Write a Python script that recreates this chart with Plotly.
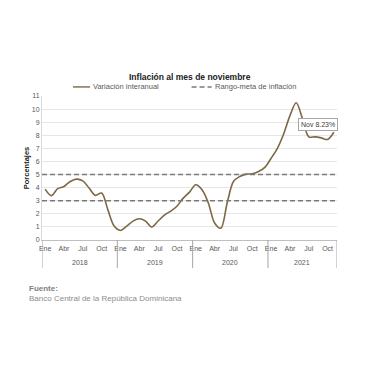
import plotly.graph_objects as go

years = ["2018", "2019", "2020", "2021"]
month_labels = ["Ene", "Abr", "Jul", "Oct"]
inflacion = [
    3.89, 3.39, 3.92, 4.09, 4.47, 4.65, 4.52, 3.97, 3.41, 3.59, 2.30, 1.06,   # 2018
    0.73, 1.06, 1.44, 1.62, 1.44, 0.99, 1.45, 1.90, 2.20, 2.58, 3.20, 3.66,   # 2019
    4.22, 3.84, 2.83, 1.30, 0.90, 2.83, 4.47, 4.85, 5.03, 5.05, 5.23, 5.55,   # 2020
    6.24, 7.00, 8.10, 9.50, 10.48, 9.27, 7.88, 7.88, 7.80, 7.68, 8.23         # 2021
]
meta_inf = 3.0
meta_sup = 5.0
ultimo_label = "Nov 8.23%"

n = len(inflacion)
xs = list(range(n))
line_color = "#7d6845"
grid_color = "#e6e6e6"
dash_color = "#7a7a7a"
txt_color = "#595959"

fig = go.Figure()
fig.add_trace(go.Scatter(x=xs, y=inflacion, mode="lines", line=dict(color=line_color, width=1.6, shape="spline", smoothing=0.9),
                         showlegend=False, hoverinfo="skip"))
for v in (meta_inf, meta_sup):
    fig.add_trace(go.Scatter(x=[-0.5, n - 0.5], y=[v, v], mode="lines",
                             line=dict(color=dash_color, width=1.4, dash="5px,3px"), showlegend=False, hoverinfo="skip"))

tickvals, ticktext = [], []
for yi in range(len(years)):
    for mi, lab in enumerate(month_labels):
        idx = yi * 12 + mi * 3
        if idx < n:
            tickvals.append(idx)
            ticktext.append(lab)

fig.update_xaxes(range=[-0.5, n - 0.5], tickvals=tickvals, ticktext=ticktext, showgrid=False,
                 showline=True, linecolor="#bfbfbf", linewidth=1, ticks="", zeroline=False,
                 tickfont=dict(family="Liberation Sans", size=7, color=txt_color), ticklabelstandoff=2)
fig.update_yaxes(range=[0, 11], dtick=1, showgrid=True, gridcolor=grid_color, gridwidth=1, zeroline=False,
                 showline=True, linecolor="#d9d9d9", ticks="",
                 tickfont=dict(family="Liberation Sans", size=7, color=txt_color),
                 title=dict(text="<b>Porcentajes</b>", font=dict(family="Liberation Sans", size=7.5, color="#222"), standoff=1))

shapes = []
for b in list(range(0, n + 1, 12)) + [n]:
    xb = b - 0.5
    shapes.append(dict(type="line", xref="x", yref="paper", x0=xb, x1=xb, y0=0, y1=-0.195,
                       line=dict(color="#a6a6a6", width=1)))

annotations = []
for yi, yr in enumerate(years):
    start = yi * 12 - 0.5
    end = min(yi * 12 + 11.5, n - 0.5)
    annotations.append(dict(x=(start + end) / 2, y=-0.155, xref="x", yref="paper", text=yr, showarrow=False,
                            font=dict(family="Liberation Sans", size=7, color=txt_color), yanchor="middle"))

annotations.append(dict(x=0.5, y=1.13, xref="paper", yref="paper", text="<b>Inflación al mes de noviembre</b>",
                        showarrow=False, font=dict(family="Liberation Sans", size=8.5, color="#222"), yanchor="middle"))
shapes.append(dict(type="line", xref="paper", yref="paper", x0=0.105, x1=0.163, y0=1.063, y1=1.063,
                   line=dict(color=line_color, width=1.4)))
annotations.append(dict(x=0.166, y=1.063, xref="paper", yref="paper", text="Variación interanual", showarrow=False,
                        xanchor="left", font=dict(family="Liberation Sans", size=7.5, color=txt_color), yanchor="middle"))
shapes.append(dict(type="line", xref="paper", yref="paper", x0=0.507, x1=0.575, y0=1.063, y1=1.063,
                   line=dict(color=dash_color, width=1.4, dash="5px,3px")))
annotations.append(dict(x=0.578, y=1.063, xref="paper", yref="paper", text="Rango-meta de inflación", showarrow=False,
                        xanchor="left", font=dict(family="Liberation Sans", size=7.5, color=txt_color), yanchor="middle"))
annotations.append(dict(x=n - 1, y=inflacion[-1], xref="x", yref="y", text=ultimo_label, showarrow=False,
                        xanchor="right", yanchor="bottom", xshift=4, yshift=1,
                        bgcolor="white", bordercolor="#a6a6a6", borderwidth=1, borderpad=2,
                        font=dict(family="Liberation Sans", size=7, color="#404040")))
annotations.append(dict(x=-0.05, y=-0.335, xref="paper", yref="paper", text="<b>Fuente:</b>", showarrow=False,
                        xanchor="left", yanchor="middle", font=dict(family="Liberation Sans", size=8, color="#7f7f7f")))
annotations.append(dict(x=-0.05, y=-0.405, xref="paper", yref="paper",
                        text="Banco Central de la República Dominicana", showarrow=False,
                        xanchor="left", yanchor="middle", font=dict(family="Liberation Sans", size=8, color="#8c8c8c")))

fig.update_layout(width=380, height=380, margin=dict(l=34, r=51, t=88, b=148),
                  paper_bgcolor="white", plot_bgcolor="white", shapes=shapes, annotations=annotations)
fig.write_html("out.html")
